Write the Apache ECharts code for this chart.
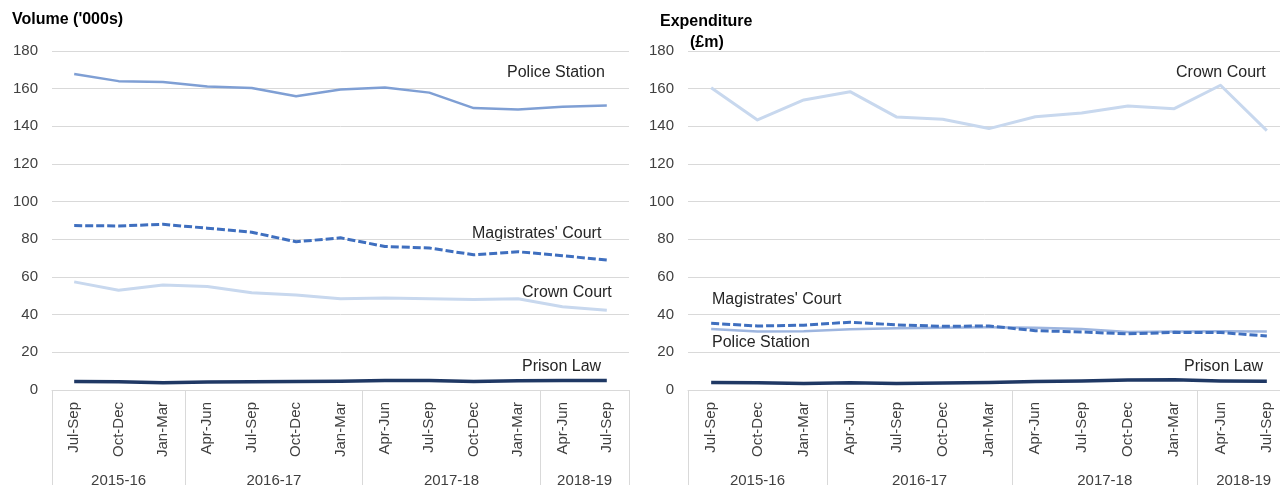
<!DOCTYPE html>
<html>
<head>
<meta charset="utf-8">
<script src="https://cdn.jsdelivr.net/npm/echarts@6/dist/echarts.min.js"></script>
<style>
  html, body { margin: 0; padding: 0; background: #fff; }
  #chart { width: 1280px; height: 489px; }
</style>
</head>
<body>
<div id="chart"></div>
<script>
// quarters, grouped by financial year
const quarters = ['Jul-Sep', 'Oct-Dec', 'Jan-Mar', 'Apr-Jun', 'Jul-Sep', 'Oct-Dec', 'Jan-Mar',
  'Apr-Jun', 'Jul-Sep', 'Oct-Dec', 'Jan-Mar', 'Apr-Jun', 'Jul-Sep']
const years = ['2015-16', '2016-17', '2017-18', '2018-19']
const yearSpans = [3, 4, 4, 2]
const yTicks = [0, 20, 40, 60, 80, 100, 120, 140, 160, 180]

// volume ('000s)
const volPolice = [167.8, 164.0, 163.6, 161.2, 160.4, 156.0, 159.5, 160.6, 157.9, 149.7, 149.0, 150.4, 151.1]
const volMags = [87.3, 87.1, 88.0, 85.9, 83.8, 78.7, 80.8, 76.2, 75.4, 71.8, 73.4, 71.3, 69.0]
const volCrown = [57.4, 53.0, 55.8, 54.9, 51.6, 50.5, 48.4, 48.8, 48.4, 48.1, 48.4, 44.2, 42.3]
const volPrison = [4.5, 4.4, 3.8, 4.3, 4.4, 4.5, 4.6, 5.0, 5.0, 4.5, 4.9, 5.0, 5.0]

// expenditure (£m)
const expCrown = [160.5, 143.4, 154.0, 158.4, 145.0, 143.8, 138.8, 145.1, 147.1, 150.8, 149.4, 161.8, 137.7]
const expMags = [35.4, 34.0, 34.4, 36.0, 34.6, 33.8, 34.0, 31.5, 30.8, 29.8, 30.6, 30.5, 28.7]
const expPolice = [32.4, 31.0, 31.2, 32.2, 32.8, 33.1, 33.3, 33.0, 32.4, 30.8, 31.0, 31.2, 31.0]
const expPrison = [4.0, 3.9, 3.5, 3.8, 3.4, 3.7, 4.0, 4.5, 4.8, 5.3, 5.5, 4.8, 4.6]

const FONT = '"Liberation Sans", Arial, sans-serif'
const GRID_COLOR = '#d9d9d9'
const LABEL_COLOR = '#404040'

// year group boundaries and centres on a 0..n band scale
const yearEdges = [0]
yearSpans.forEach(s => yearEdges.push(yearEdges[yearEdges.length - 1] + s))
const yearMids = yearSpans.map((s, i) => yearEdges[i] + s / 2)

function quarterAxis(gridIndex) {
  return {
    type: 'category',
    gridIndex,
    data: quarters,
    boundaryGap: true,
    axisLine: { lineStyle: { color: GRID_COLOR, width: 1 } },
    axisTick: { show: false },
    axisLabel: { rotate: 90, fontSize: 15, color: LABEL_COLOR, fontFamily: FONT, margin: 12 },
  }
}

function yearAxis(gridIndex) {
  return {
    type: 'value',
    gridIndex,
    position: 'bottom',
    min: 0,
    max: quarters.length,
    axisLine: { show: false },
    splitLine: { show: false },
    axisTick: {
      show: true,
      customValues: yearEdges,
      length: 95,
      lineStyle: { color: GRID_COLOR, width: 1 },
    },
    axisLabel: {
      customValues: yearMids,
      formatter: v => years[yearMids.indexOf(v)] || '',
      fontSize: 15,
      color: LABEL_COLOR,
      fontFamily: FONT,
      margin: 83,
    },
  }
}

function valueAxis(gridIndex) {
  return {
    type: 'value',
    gridIndex,
    min: yTicks[0],
    max: yTicks[yTicks.length - 1],
    interval: 20,
    axisLine: { show: false },
    axisTick: { show: false },
    splitLine: { lineStyle: { color: GRID_COLOR, width: 1 } },
    axisLabel: { fontSize: 15, color: LABEL_COLOR, fontFamily: FONT, margin: 14 },
  }
}

function line(name, data, axis, color, width, dashed) {
  return {
    name,
    type: 'line',
    xAxisIndex: axis * 2,
    yAxisIndex: axis,
    data,
    symbol: 'none',
    lineStyle: { color, width, type: dashed ? [8, 3] : 'solid', cap: 'butt', join: 'round' },
    z: 3,
  }
}

function note(text, x, y, opts) {
  return {
    type: 'text',
    x,
    y,
    style: Object.assign({
      text,
      fill: '#262626',
      font: '16px ' + FONT,
      textVerticalAlign: 'middle',
    }, opts || {}),
  }
}

const chart = echarts.init(document.getElementById('chart'))
chart.setOption({
  animation: false,
  grid: [
    { left: 52, right: 651, top: 51, bottom: 99, outerBoundsMode: 'none' },
    { left: 688, width: 602, top: 51, bottom: 99, outerBoundsMode: 'none' },
  ],
  xAxis: [quarterAxis(0), yearAxis(0), quarterAxis(1), yearAxis(1)],
  yAxis: [valueAxis(0), valueAxis(1)],
  series: [
    line('Crown Court', volCrown, 0, '#c8d8ee', 3),
    line('Police Station', volPolice, 0, '#7f9fd4', 2.5),
    line("Magistrates' Court", volMags, 0, '#3f6fbf', 3, true),
    line('Prison Law', volPrison, 0, '#1f3864', 3.5),
    line('Crown Court', expCrown, 1, '#c8d8ee', 3),
    line('Police Station', expPolice, 1, '#9db5df', 2.5),
    line("Magistrates' Court", expMags, 1, '#3f6fbf', 3, true),
    line('Prison Law', expPrison, 1, '#1f3864', 3.5),
  ],
  graphic: [
    note("Volume ('000s)", 12, 20, { font: 'bold 16px ' + FONT, fill: '#000' }),
    note('Expenditure', 660, 22, { font: 'bold 16px ' + FONT, fill: '#000' }),
    note('(£m)', 690, 43, { font: 'bold 16px ' + FONT, fill: '#000' }),
    note('Police Station', 507, 73),
    note("Magistrates' Court", 472, 234),
    note('Crown Court', 522, 293),
    note('Prison Law', 522, 367),
    note('Crown Court', 1176, 73),
    note("Magistrates' Court", 712, 300),
    note('Police Station', 712, 343),
    note('Prison Law', 1184, 367),
  ],
})
</script>
</body>
</html>
